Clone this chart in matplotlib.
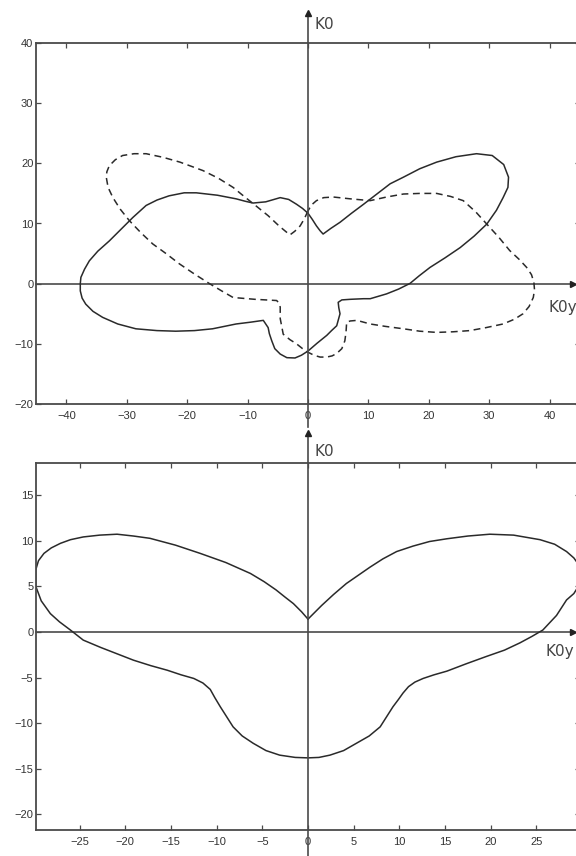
import numpy as np
import matplotlib
matplotlib.use("Agg")
import matplotlib.pyplot as plt

# upper panel: solid and dashed closed curves
top_solid_x = [0, 0.7, 1.4, 2.0, 2.5, 3.8, 5.3, 7.2, 9.2, 11.4, 13.6, 15.8, 18.5, 21.3, 24.5,
               27.9, 30.5, 32.4, 33.2, 33.1, 32.3, 31.2, 29.6, 27.5, 25.2, 22.7, 20.2, 18.4,
               16.9, 15.0, 13.0, 10.3, 9.2, 7.0, 5.6, 5.0, 5.1, 5.3, 4.75, 3.9, 3.1, 1.5, 0,
               -1.1, -2.15, -3.5, -4.6, -5.5, -6.0, -6.4, -6.6, -7.4, -9.5, -11.9, -15.8,
               -18.8, -21.9, -25.0, -28.5, -31.5, -34.0, -35.6, -36.8, -37.4, -37.7, -37.7,
               -37.6, -37.0, -36.2, -34.8, -32.9, -31.0, -29.0, -26.8, -25.0, -23.0, -20.5,
               -18.5, -15.0, -11.9, -10.4, -9.1, -7.0, -4.6, -3.2, -1.9, -0.9, 0]
top_solid_y = [11.7, 10.7, 9.6, 8.8, 8.25, 9.2, 10.2, 11.7, 13.2, 14.9, 16.6, 17.7, 19.1, 20.2,
               21.1, 21.6, 21.3, 19.8, 17.7, 16.0, 14.3, 12.2, 9.9, 7.9, 6.0, 4.3, 2.7, 1.3,
               0.05, -0.9, -1.7, -2.5, -2.5, -2.6, -2.7, -3.1, -4.0, -5.0, -7.0, -7.8, -8.6,
               -9.9, -11.2, -11.9, -12.35, -12.3, -11.7, -10.8, -9.5, -8.3, -7.3, -6.1, -6.4,
               -6.7, -7.5, -7.8, -7.9, -7.8, -7.5, -6.7, -5.6, -4.6, -3.4, -2.4, -1.2, 0.0,
               1.05, 2.4, 3.8, 5.4, 7.1, 9.0, 11.0, 13.0, 13.9, 14.6, 15.1, 15.1, 14.7, 14.1,
               13.7, 13.4, 13.6, 14.3, 14.0, 13.2, 12.5, 11.7]

top_dash_x = [0, -0.6, -1.3, -2.2, -3.0, -4.8, -6.6, -8.7, -10.7, -12.4, -14.8, -17.4, -21.2,
              -24.0, -26.8, -28.8, -30.7, -31.9, -32.9, -33.3, -33.4, -33.1, -32.3, -31.1,
              -29.6, -27.7, -25.7, -23.5, -21.3, -18.8, -16.3, -14.3, -12.4, -8.8, -5.2, -4.8,
              -4.6, -4.6, -4.1, -3.0, -1.9, -0.9, 0, 1.0, 2.0, 3.1, 4.0, 4.75, 5.6, 6.1, 6.3,
              6.4, 7.0, 8.1, 10.3, 12.8, 15.8, 18.5, 21.3, 24.0, 26.8, 29.5, 32.3, 34.2, 35.6,
              36.6, 37.3, 37.5, 37.4, 37.0, 36.2, 35.0, 33.4, 31.6, 29.6, 27.8, 25.7, 23.6,
              21.3, 18.5, 15.8, 13.0, 10.3, 7.0, 4.2, 2.6, 1.4, 0.6, 0]
top_dash_y = [12.1, 10.8, 9.6, 8.7, 8.1, 9.6, 11.3, 13.0, 14.6, 16.0, 17.5, 18.8, 20.2, 21.0,
              21.6, 21.6, 21.3, 20.6, 19.6, 18.6, 17.7, 16.0, 14.3, 12.4, 10.5, 8.5, 6.6, 5.0,
              3.3, 1.6, 0.0, -1.2, -2.3, -2.6, -2.8, -3.2, -3.9, -5.8, -8.4, -9.3, -10.0,
              -10.8, -11.4, -11.9, -12.2, -12.2, -12.0, -11.6, -10.8, -9.5, -8.0, -6.4, -6.2,
              -6.1, -6.7, -7.1, -7.5, -7.9, -8.1, -8.0, -7.8, -7.3, -6.7, -5.9, -5.0, -3.8,
              -2.3, -1.0, 0.2, 1.5, 2.7, 4.0, 5.5, 7.7, 9.9, 11.9, 13.8, 14.5, 15.0, 15.0,
              14.9, 14.4, 13.8, 14.1, 14.4, 14.3, 13.8, 13.1, 12.1]

# lower panel: single closed curve
bot_x = [0, 0.7, 1.5, 2.8, 4.2, 5.5, 6.8, 8.2, 9.7, 11.5, 13.3, 15.2, 17.5, 19.9, 22.5, 25.4,
         27.0, 28.3, 29.1, 29.6, 29.9, 29.8, 29.6, 29.1, 28.3, 27.2, 25.7, 24.5, 23.2, 21.5,
         19.5, 17.3, 15.2, 13.8, 12.6, 11.7, 11.0, 10.4, 9.9, 9.3, 8.6, 7.9, 6.7, 5.3, 3.9,
         2.4, 1.2, 0, -1.4, -3.1, -4.6, -6.0, -7.2, -8.2, -8.9, -9.6, -10.2, -10.7, -11.5,
         -12.5, -13.9, -15.4, -17.2, -19.1, -20.9, -22.7, -24.6, -26.0, -27.2, -28.2, -29.2,
         -29.8, -29.8, -29.5, -28.9, -28.1, -27.1, -26.0, -24.6, -22.8, -20.9, -19.1, -17.3,
         -14.5, -11.8, -9.0, -6.3, -4.8, -3.5, -2.5, -1.6, -0.7, 0]
bot_y = [1.4, 2.1, 2.9, 4.1, 5.3, 6.2, 7.1, 8.0, 8.8, 9.4, 9.9, 10.2, 10.5, 10.7, 10.6, 10.1,
         9.6, 8.8, 8.1, 7.4, 6.3, 5.6, 5.0, 4.2, 3.5, 1.8, 0.2, -0.5, -1.2, -2.0, -2.7, -3.5,
         -4.3, -4.7, -5.1, -5.5, -6.0, -6.7, -7.4, -8.2, -9.3, -10.4, -11.4, -12.2, -13.0,
         -13.5, -13.75, -13.8, -13.75, -13.5, -13.0, -12.2, -11.4, -10.4, -9.3, -8.2, -7.2,
         -6.3, -5.6, -5.1, -4.7, -4.2, -3.7, -3.1, -2.4, -1.7, -0.9, 0.2, 1.1, 2.0, 3.4,
         5.0, 6.8, 7.8, 8.6, 9.2, 9.7, 10.1, 10.4, 10.6, 10.7, 10.5, 10.25, 9.5, 8.6, 7.6,
         6.4, 5.5, 4.6, 3.8, 3.1, 2.2, 1.4]

top_xticks = [-40, -30, -20, -10, 0, 10, 20, 30, 40]
top_yticks = [-20, -10, 0, 10, 20, 30, 40]
bot_xticks = [-25, -20, -15, -10, -5, 0, 5, 10, 15, 20, 25]
bot_yticks = [-20, -15, -10, -5, 0, 5, 10, 15]

CURVE = "#2a2a2a"
AXC = "#4a4a4a"

plt.rcParams["font.family"] = ["Liberation Sans", "DejaVu Sans"]

fig = plt.figure(figsize=(5.76, 8.56), dpi=100)
W, H = 576.0, 856.0


def setup(ax, xlim, ylim, xticks, yticks):
    ax.set_xlim(*xlim)
    ax.set_ylim(*ylim)
    ax.set_xticks(xticks)
    ax.set_yticks(yticks)
    for s in ax.spines.values():
        s.set_color(AXC)
        s.set_linewidth(1.3)
    ax.tick_params(direction="in", top=True, right=True, length=3.8, width=0.9,
                   color=AXC, labelsize=8, labelcolor="#333333")
    ax.tick_params(axis="x", pad=5)
    ax.tick_params(axis="y", pad=2)


def centre_axes(ax, xend, ybot, ytop, k0_pos, k0y_pos):
    x0 = ax.get_xlim()[0]
    ax.plot([x0, xend], [0, 0], color=AXC, lw=1.2, clip_on=False, zorder=1)
    ax.plot([xend], [0], marker=">", ms=4, color="#222222", clip_on=False, zorder=3)
    ax.plot([0, 0], [ybot, ytop], color=AXC, lw=1.2, clip_on=False, zorder=4)
    ax.plot([0], [ytop], marker="^", ms=4, color="#222222", clip_on=False, zorder=4)
    ax.text(k0_pos[0], k0_pos[1], "K0", fontsize=11, color="#444444",
            family="DejaVu Sans", va="center", ha="left")
    ax.text(k0y_pos[0], k0y_pos[1], "K0y", fontsize=11, color="#444444",
            family="DejaVu Sans", va="center", ha="left", clip_on=False)


# upper panel: x -45..45, y -20..40
ax1 = fig.add_axes([36.2 / W, 1 - 404 / H, 543.6 / W, 361 / H])
setup(ax1, (-45, 45), (-20, 40), top_xticks, top_yticks)
ax1.plot(top_solid_x, top_solid_y, color=CURVE, lw=1.1)
ax1.plot(top_dash_x, top_dash_y, color=CURVE, lw=1.1, dashes=(4.5, 3))
centre_axes(ax1, 43.9, -23.8, 45.0, (1.0, 43.0), (39.9, -3.9))

# lower panel: x -29.75..29.75, y -21.7..18.5
ax2 = fig.add_axes([36.2 / W, 1 - 830 / H, 543.6 / W, 367 / H])
setup(ax2, (-29.75, 29.75), (-21.7, 18.5), bot_xticks, bot_yticks)
ax2.plot(bot_x, bot_y, color=CURVE, lw=1.1)
centre_axes(ax2, 29.0, -24.6, 21.8, (0.7, 19.8), (26.0, -2.2))

fig.savefig("out.png", dpi=100)
